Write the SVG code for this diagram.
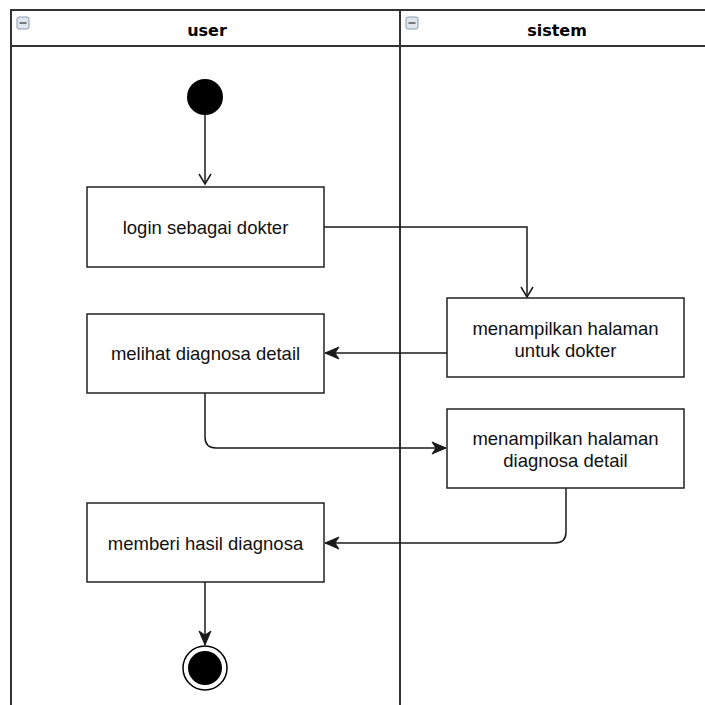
<svg xmlns="http://www.w3.org/2000/svg" width="705" height="705" viewBox="0 0 705 705">
  <style>
    .lane { fill: none; stroke: #333333; stroke-width: 2; }
    .box { fill: #ffffff; stroke: #222222; stroke-width: 1.5; }
    .hdr { font-family: "DejaVu Sans", Verdana, sans-serif; font-weight: bold; font-size: 16px; fill: #000000; text-anchor: middle; }
    .lbl { font-family: "Liberation Sans", Arial, sans-serif; font-size: 18.5px; fill: #111111; text-anchor: middle; }
    .edge { fill: none; stroke: #1a1a1a; stroke-width: 1.5; }
    .icon { fill: #dfe6ee; stroke: #8a9bb0; stroke-width: 1; }
  </style>
  <defs>
    <marker id="open" markerWidth="14" markerHeight="14" refX="12" refY="7" orient="auto" markerUnits="userSpaceOnUse" viewBox="0 0 14 14">
      <path d="M2,1 L12,7 L2,13" fill="none" stroke="#1a1a1a" stroke-width="1.5"/>
    </marker>
    <marker id="filled" markerWidth="16" markerHeight="14" refX="15" refY="7" orient="auto" markerUnits="userSpaceOnUse" viewBox="0 0 16 14">
      <path d="M1,1 L15,7 L1,13 L5,7 Z" fill="#1a1a1a" stroke="#1a1a1a" stroke-width="1"/>
    </marker>
  </defs>

  <rect width="705" height="705" fill="#ffffff"/>

  <!-- swimlanes -->
  <g id="lanes">
    <path class="lane" d="M11,720 L11,10 L720,10"/>
    <line class="lane" x1="11" y1="46" x2="720" y2="46"/>
    <line class="lane" x1="400" y1="10" x2="400" y2="720"/>
    <g id="lane-user">
      <rect class="icon" x="17" y="17" width="12" height="12" rx="2"/>
      <line x1="19.5" y1="23" x2="26.5" y2="23" stroke="#555" stroke-width="1.5"/>
      <text class="hdr" x="207" y="36">user</text>
    </g>
    <g id="lane-sistem">
      <rect class="icon" x="406" y="17" width="12" height="12" rx="2"/>
      <line x1="408.5" y1="23" x2="415.5" y2="23" stroke="#555" stroke-width="1.5"/>
      <text class="hdr" x="557" y="36">sistem</text>
    </g>
  </g>

  <!-- connectors -->
  <g id="connectors">
    <line class="edge" x1="205" y1="115" x2="205" y2="184" marker-end="url(#open)"/>
    <path class="edge" d="M324,227 L527,227 L527,297" marker-end="url(#open)"/>
    <line class="edge" x1="447" y1="353" x2="325" y2="353" marker-end="url(#filled)"/>
    <path class="edge" d="M205,393 L205,437 Q205,448 216,448 L446,448" marker-end="url(#filled)"/>
    <path class="edge" d="M566,488 L566,532 Q566,543 555,543 L325,543" marker-end="url(#filled)"/>
    <line class="edge" x1="205" y1="582" x2="205" y2="645" marker-end="url(#filled)"/>
  </g>

  <!-- nodes -->
  <g id="start">
    <circle cx="205" cy="97" r="18" fill="#000000"/>
  </g>
  <g id="login">
    <rect class="box" x="87" y="187" width="237" height="80"/>
    <text class="lbl" x="205.5" y="234">login sebagai dokter</text>
  </g>
  <g id="halaman-dokter">
    <rect class="box" x="447" y="298" width="237" height="79"/>
    <text class="lbl" x="565.5" y="335">menampilkan halaman</text>
    <text class="lbl" x="565.5" y="357">untuk dokter</text>
  </g>
  <g id="melihat">
    <rect class="box" x="87" y="314" width="237" height="79"/>
    <text class="lbl" x="205.5" y="360">melihat diagnosa detail</text>
  </g>
  <g id="halaman-diagnosa">
    <rect class="box" x="447" y="409" width="237" height="79"/>
    <text class="lbl" x="565.5" y="445">menampilkan halaman</text>
    <text class="lbl" x="565.5" y="467">diagnosa detail</text>
  </g>
  <g id="memberi">
    <rect class="box" x="87" y="503" width="237" height="79"/>
    <text class="lbl" x="205.5" y="550">memberi hasil diagnosa</text>
  </g>
  <g id="end">
    <circle cx="205" cy="668" r="22" fill="#ffffff" stroke="#000000" stroke-width="1.5"/>
    <circle cx="205" cy="668" r="17" fill="#000000"/>
  </g>
</svg>
